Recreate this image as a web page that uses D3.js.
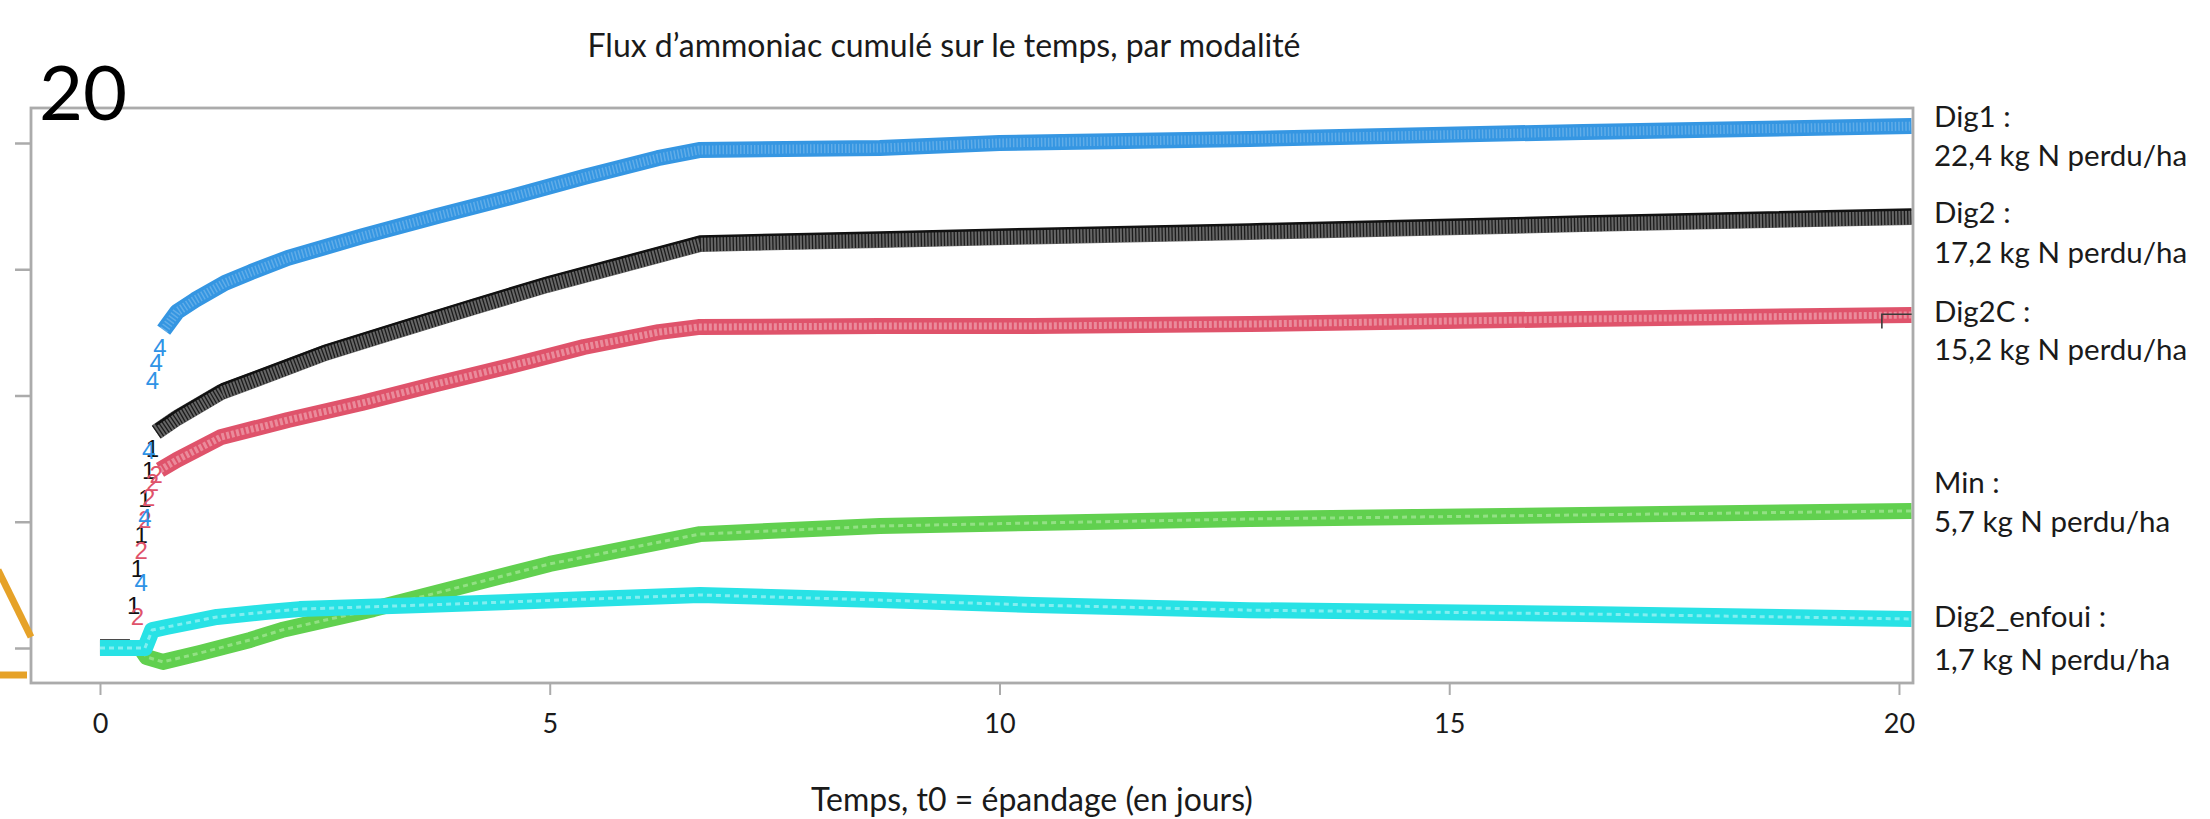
<!DOCTYPE html>
<html><head><meta charset="utf-8">
<script src="https://cdn.jsdelivr.net/npm/d3@7"></script>
<style>html,body{margin:0;padding:0;background:#fff;} svg{display:block;}</style>
</head><body>
<svg id="chart" width="2210" height="819"></svg>
<script>
// ---------- DATA (days since spreading, cumulated NH3 flux) ----------
const xTicks = [0, 5, 10, 15, 20];
const yTicks = [0, 5, 10, 15, 20];

// Dig2 (matplot column 1, black, pch "1")
const dig2Days = [0, 0.333, null, 0.625, 0.856, 1.35, 1.886, 2.50, 3.32, 4.15, 4.97, 5.80, 6.67, 8.67, 10.37, 12.78, 16.49, 20.14];
const dig2Flux = [0, 0, null, 8.55, 9.11, 10.14, 10.85, 11.68, 12.59, 13.50, 14.38, 15.17, 16.00, 16.16, 16.30, 16.48, 16.79, 17.07];
const dig2MarkDays = [0.375, 0.417, 0.458, 0.500, 0.542, 0.583];
const dig2MarkFlux = [1.70, 3.13, 4.51, 5.94, 7.01, 7.92];

// Dig2C (column 2, red, pch "2")
const dig2cDays = [0, 0.375, null, 0.667, 0.856, 1.35, 2.09, 2.91, 3.74, 4.56, 5.38, 6.21, 6.65, 8.67, 10.37, 12.78, 16.49, 20.14];
const dig2cFlux = [0, 0, null, 7.05, 7.45, 8.36, 9.03, 9.70, 10.46, 11.17, 11.92, 12.51, 12.71, 12.75, 12.75, 12.83, 13.03, 13.19];
const dig2cMarkDays = [0.417, 0.458, 0.500, 0.542, 0.583, 0.625];
const dig2cMarkFlux = [1.23, 3.88, 5.07, 5.98, 6.57, 6.89];

// Min (column 3, green, pch "3")
const minDays = [0, 0.45, 0.52, 0.70, 1.11, 1.67, 2.02, 3.04, 5.00, 6.67, 8.67, 10.37, 12.78, 16.49, 20.14];
const minFlux = [0, 0, -0.36, -0.55, -0.20, 0.32, 0.71, 1.54, 3.33, 4.51, 4.83, 4.95, 5.11, 5.27, 5.43];

// Dig1 (column 4, blue, pch "4")
const dig1Days = [0, 0.417, null, 0.708, 0.856, 1.056, 1.39, 1.68, 2.09, 2.91, 3.74, 4.56, 5.38, 6.20, 6.66, 8.67, 10.00, 12.78, 16.49, 20.14];
const dig1Flux = [0, 0, null, 12.59, 13.31, 13.78, 14.46, 14.89, 15.45, 16.30, 17.10, 17.85, 18.65, 19.40, 19.72, 19.80, 20.00, 20.16, 20.44, 20.67];
const dig1MarkDays = [0.458, 0.500, 0.542, 0.583, 0.625, 0.667];
const dig1MarkFlux = [2.61, 5.15, 7.84, 10.61, 11.29, 11.92];

// Dig2_enfoui (column 5, cyan, pch "5")
const enfouiDays = [0, 0.50, 0.58, 0.74, 1.30, 1.86, 2.22, 3.59, 6.67, 8.67, 10.37, 12.78, 16.49, 20.14];
const enfouiFlux = [0, 0, 0.71, 0.83, 1.23, 1.43, 1.54, 1.70, 2.10, 1.90, 1.70, 1.50, 1.35, 1.15];

// Right-hand annotations
const legendNames = ["Dig1 :", "Dig2 :", "Dig2C :", "Min :", "Dig2_enfoui :"];
const legendLosses = ["22,4 kg N perdu/ha", "17,2 kg N perdu/ha", "15,2 kg N perdu/ha", "5,7 kg N perdu/ha", "1,7 kg N perdu/ha"];

const titleText = "Flux d\u2019ammoniac cumulé sur le temps, par modalité";
const xTitleText = "Temps, t0 = épandage (en jours)";
const cornerLabel = "20";

// ---------- CHART ----------
const svg = d3.select("#chart");
const FONT = "Lato, 'Open Sans', 'DejaVu Sans', sans-serif";
const x = d3.scaleLinear().domain([-0.767, 20.156]).range([31, 1913]);
const y = d3.scaleLinear().domain([-1.386, 21.386]).range([683, 108]);

svg.append("defs").append("clipPath").attr("id", "plotclip")
  .append("rect").attr("x", 31).attr("y", 108).attr("width", 1882).attr("height", 575);

const zip = (a, b) => a.map((d, i) => [d, b[i]]);
const line = d3.line().defined(d => d[0] !== null && d[1] !== null)
  .x(d => x(d[0])).y(d => y(d[1])).curve(d3.curveLinear);

const series = [
  {days: dig2Days, flux: dig2Flux, mDays: dig2MarkDays, mFlux: dig2MarkFlux, pch: "1",
   base: "#666666", tex: "#1c1c1c", texW: 15, dash: "1.3,2", texOp: 1, markColor: "#111", edge: "#111"},
  {days: dig2cDays, flux: dig2cFlux, mDays: dig2cMarkDays, mFlux: dig2cMarkFlux, pch: "2",
   base: "#DF536B", tex: "#f2b0bb", texW: 7, dash: "3,2", texOp: 0.6, markColor: "#DF536B"},
  {days: minDays, flux: minFlux, mDays: [], mFlux: [], pch: "3",
   base: "#61D04F", tex: "#b2eba7", texW: 3, dash: "5,4", texOp: 0.6, markColor: "#61D04F"},
  {days: dig1Days, flux: dig1Flux, mDays: dig1MarkDays, mFlux: dig1MarkFlux, pch: "4",
   base: "#3596e2", tex: "#ffffff", texW: 9, dash: "1.5,2", texOp: 0.22, markColor: "#2f93e6"},
  {days: enfouiDays, flux: enfouiFlux, mDays: [], mFlux: [], pch: "5",
   base: "#28E2E5", tex: "#a6f4f5", texW: 3, dash: "5,4", texOp: 0.7, markColor: "#28E2E5"}
];

const plot = svg.append("g").attr("clip-path", "url(#plotclip)");

series.forEach(s => {
  const pts = zip(s.days, s.flux);
  const g = plot.append("g");
  g.append("path").attr("d", line(pts)).attr("fill", "none")
    .attr("stroke", s.base).attr("stroke-width", 16)
    .attr("stroke-linejoin", "round").attr("stroke-linecap", "butt");
  g.append("path").attr("d", line(pts)).attr("fill", "none")
    .attr("stroke", s.tex).attr("stroke-width", s.texW).attr("stroke-opacity", s.texOp)
    .attr("stroke-dasharray", s.dash).attr("stroke-linejoin", "round");
  if (s.edge) {
    g.append("path").attr("d", line(pts)).attr("fill", "none")
      .attr("transform", "translate(0,-7.5)")
      .attr("stroke", s.edge).attr("stroke-width", 2.5).attr("stroke-linejoin", "round");
  }
  g.selectAll("text.mk").data(zip(s.mDays, s.mFlux)).join("text")
    .attr("class", "mk")
    .attr("x", d => x(d[0])).attr("y", d => y(d[1]))
    .attr("text-anchor", "middle").attr("dominant-baseline", "central")
    .attr("font-family", "'Liberation Sans', Arial, sans-serif").attr("font-size", 24)
    .attr("fill", s.markColor).text(s.pch);
});

// small dark outline at the end of the red band
plot.append("path")
  .attr("d", `M${x(19.81)},${y(12.65)}V${y(13.22)}H${x(20.16)}`)
  .attr("fill", "none").attr("stroke", "#3a3a3a").attr("stroke-width", 1.6);

// axes
const axisColor = "#ababab";
const xAxis = svg.append("g").attr("transform", "translate(0,683)")
  .call(d3.axisBottom(x).tickValues(xTicks).tickSize(12).tickPadding(19).tickFormat(d3.format("d")));
xAxis.select(".domain").remove();
xAxis.selectAll(".tick line").attr("stroke", axisColor).attr("stroke-width", 2);
xAxis.selectAll(".tick text").attr("font-family", FONT).attr("font-size", 27).attr("fill", "#1a1a1a");

const yAxis = svg.append("g").attr("transform", "translate(31,0)")
  .call(d3.axisLeft(y).tickValues(yTicks).tickSize(16).tickFormat(""));
yAxis.select(".domain").remove();
yAxis.selectAll(".tick line").attr("stroke", axisColor).attr("stroke-width", 2.5);

svg.append("rect").attr("x", 31).attr("y", 108).attr("width", 1882).attr("height", 575)
  .attr("fill", "none").attr("stroke", axisColor).attr("stroke-width", 2.8);

// titles
svg.append("text").attr("x", 944).attr("y", 57).attr("text-anchor", "middle")
  .attr("font-family", FONT).attr("font-size", 32).attr("fill", "#1a1a1a").text(titleText);
svg.append("text").attr("x", 1032).attr("y", 811).attr("text-anchor", "middle")
  .attr("font-family", FONT).attr("font-size", 32).attr("fill", "#1a1a1a").text(xTitleText);

// corner "20"
svg.append("text").attr("x", 39).attr("y", 120)
  .attr("font-family", FONT).attr("font-size", 76).attr("fill", "#000").text(cornerLabel);

// right-hand labels
const nameY = [127, 223, 322, 493, 627];
const lossY = [166, 263, 360, 532, 670];
const rl = svg.append("g").attr("font-family", FONT).attr("font-size", 29.5).attr("fill", "#1a1a1a");
legendNames.forEach((n, i) => {
  rl.append("text").attr("x", 1934).attr("y", nameY[i]).text(n);
  rl.append("text").attr("x", 1934).attr("y", lossY[i]).text(legendLosses[i]);
});

// orange overlay strokes at the left edge
const orange = "#E6A228";
svg.append("line").attr("x1", -2).attr("y1", 570).attr("x2", 31).attr("y2", 637)
  .attr("stroke", orange).attr("stroke-width", 7);
svg.append("line").attr("x1", 0).attr("y1", 675).attr("x2", 27).attr("y2", 675)
  .attr("stroke", orange).attr("stroke-width", 7);
</script>
</body></html>
